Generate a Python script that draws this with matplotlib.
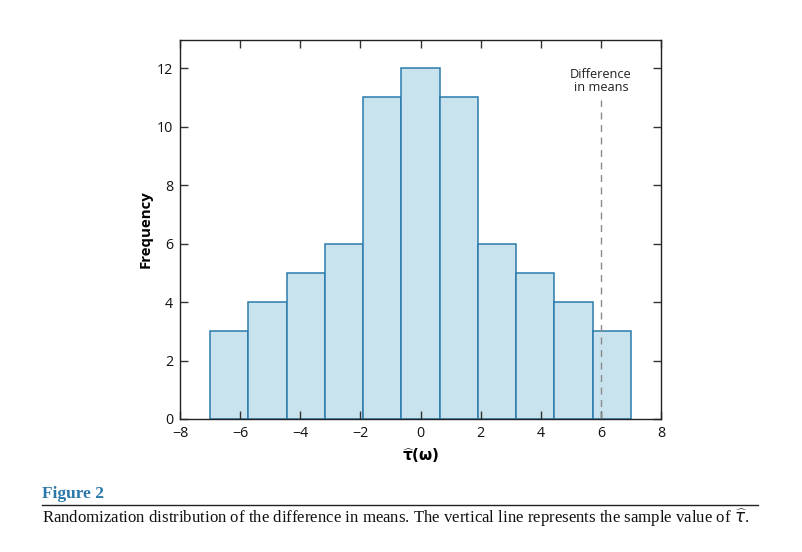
import matplotlib
matplotlib.use("Agg")
import matplotlib.pyplot as plt
import numpy as np

bin_edges = np.linspace(-7, 7, 12)
counts = [3, 4, 5, 6, 11, 12, 11, 6, 5, 4, 3]
sample_value = 6
xticks = [-8, -6, -4, -2, 0, 2, 4, 6, 8]
yticks = [0, 2, 4, 6, 8, 10, 12]

plt.rcParams['font.family'] = ['Open Sans', 'DejaVu Sans']

fig = plt.figure(figsize=(8.02, 5.52), dpi=100)
ax = fig.add_axes([180/802, 1-419/552, 481/802, 379/552])

widths = np.diff(bin_edges)
ax.bar(bin_edges[:-1], counts, width=widths, align='edge',
       color='#c8e3ee', edgecolor='#2b7bab', linewidth=1.1)

ax.plot([sample_value, sample_value], [0, 10.9], linestyle=(0, (5, 4)),
        color='#8a8a8a', linewidth=1.0)
ax.text(sample_value, 11.55, 'Difference\nin means', ha='center', va='center',
        fontsize=9.2, linespacing=1.0, color='#222222')

ax.set_xlim(-8, 8)
ax.set_ylim(0, 12.96)
ax.set_xticks(xticks)
ax.set_yticks(yticks)
ax.set_xticklabels([str(t).replace('-', '\u2212') for t in xticks])
ax.tick_params(direction='in', top=True, right=True, length=6, width=1,
               labelsize=10.3, colors='#333333', labelcolor='#111111', pad=5)
for s in ax.spines.values():
    s.set_linewidth(1.0)
    s.set_color('#222222')

ax.set_ylabel('Frequency', fontsize=10.8, fontweight='bold', labelpad=3)
ax.set_xlabel(r'$\mathbf{\widehat{\tau}(\omega)}$', fontsize=11, labelpad=4)

fig.text(42/802, 1-494/552, 'Figure 2', fontsize=12.5, fontweight='bold',
         color='#2a78aa', family='Liberation Serif', va='center')
fig.add_artist(plt.Line2D([42/802, 758/802], [1-505/552, 1-505/552],
                          color='#222222', linewidth=1.0))
fig.text(42/802, 1-518/552,
         r'Randomization distribution of the difference in means. The vertical line represents the sample value of $\widehat{\tau}$.',
         fontsize=12.1, family='Liberation Serif', va='center', color='#111111')

fig.savefig('out.png', dpi=100)
